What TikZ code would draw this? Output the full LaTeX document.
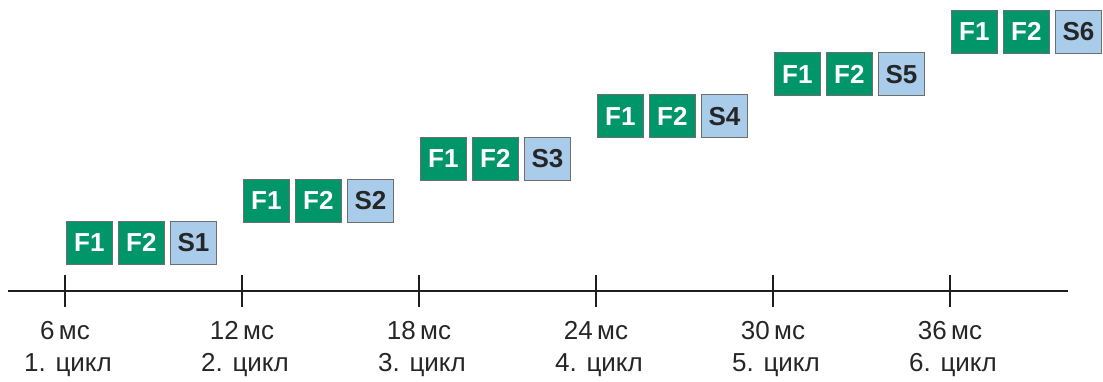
\documentclass[tikz,border=0pt]{standalone}
\usepackage{fontspec}
\setmainfont{Liberation Sans}
\definecolor{fgreen}{RGB}{0,150,105}
\definecolor{sblue}{RGB}{168,204,234}
\definecolor{bgray}{RGB}{110,110,110}
\definecolor{axisc}{RGB}{30,30,30}
\begin{document}
\begin{tikzpicture}[x=1pt,y=-1pt,
  fbox/.style={draw=bgray,line width=0.8pt,fill=fgreen,text=white,font=\fontsize{26}{30}\selectfont\bfseries,minimum width=46pt,minimum height=43pt,inner sep=0pt,anchor=north west},
  sbox/.style={fbox,fill=sblue,text=black!85},
  lbl/.style={font=\fontsize{26}{30}\selectfont,text=black!85,inner sep=0pt,anchor=base},
  axisl/.style={draw=axisc,line width=1.6pt}]
\useasboundingbox (0,0) rectangle (1103,381);
\coordinate (a0) at (8,291);
\coordinate (a1) at (1068,291);
\draw[axisl] (a0) -- (a1);
\foreach \i/\ms in {1/6,2/12,3/18,4/24,5/30,6/36}{
  \pgfmathsetmacro{\tx}{65+177*(\i-1)}
  \pgfmathsetmacro{\ty}{221-42.2*(\i-1)}
  \coordinate (t\i) at (\tx,291);
  \draw[axisl] ([yshift=16pt]t\i) -- ([yshift=-16pt]t\i);
  \node[lbl] (ms\i) at (\tx,339) {\ms\,мс};
  \node[lbl] (c\i) at (\tx+3,371) {\i. цикл};
  \node[fbox] (f1\i) at (\tx+1,\ty) {F1};
  \node[fbox] (f2\i) at (\tx+53,\ty) {F2};
  \node[sbox] (s\i) at (\tx+105,\ty) {S\i};
}
\end{tikzpicture}
\end{document}
